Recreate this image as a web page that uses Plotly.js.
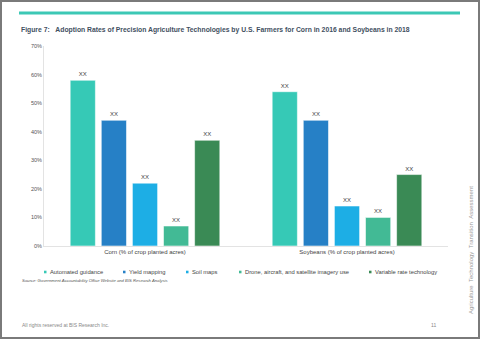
<!DOCTYPE html>
<html>
<head>
<meta charset="utf-8">
<script src="https://cdn.plot.ly/plotly-3.0.1.min.js"></script>
<style>html,body{margin:0;padding:0;background:#fff;}#chart{width:480px;height:339px;}</style>
</head>
<body>
<div id="chart"></div>
<script>
const categories = ["Corn (% of crop planted acres)", "Soybeans (% of crop planted acres)"];
const seriesNames = ["Automated guidance", "Yield mapping", "Soil maps", "Drone, aircraft, and satellite imagery use", "Variable rate technology"];
const automatedGuidance = [58, 54];
const yieldMapping = [44, 44];
const soilMaps = [22, 14];
const droneImagery = [7, 10];
const variableRate = [37, 25];
const seriesValues = [automatedGuidance, yieldMapping, soilMaps, droneImagery, variableRate];
const barLabels = ["XX", "XX"];
const yTickValues = [0, 10, 20, 30, 40, 50, 60, 70];
const yTickLabels = ["0%", "10%", "20%", "30%", "40%", "50%", "60%", "70%"];
const colors = ["#36C9B6", "#2680C6", "#1DAEE5", "#42BA95", "#3A8A55"];

// plot area in pixels: x 44..448, y 46..246
const L = 44, R = 448, T = 46, B = 246;
const px = x => (x - L) / (R - L);
const py = y => (B - y) / (B - T);
const FONT = "Liberation Sans, Arial, sans-serif";

const traces = seriesValues.map((vals, i) => ({
  type: "bar",
  name: seriesNames[i],
  x: categories,
  y: vals,
  text: barLabels,
  textposition: "outside",
  textfont: {family: FONT, size: 6, color: "#444"},
  cliponaxis: false,
  marker: {color: colors[i], line: {color: "rgba(255,255,255,0.55)", width: 1}},
  hoverinfo: "none",
  showlegend: false
}));

const legendX = [44, 123, 186, 239, 369];
const legendY = 272;
const shapes = [
  {type: "line", xref: "paper", yref: "paper", x0: px(19), x1: px(460), y0: py(13), y1: py(13), line: {color: "#3CC8B5", width: 3}},
  {type: "rect", xref: "paper", yref: "paper", x0: px(1), x1: px(479), y0: py(338), y1: py(1), line: {color: "#7a7a7a", width: 2}}
];
const annotations = [
  {xref: "paper", yref: "paper", x: px(19), y: py(30), xanchor: "left", yanchor: "middle", showarrow: false,
   text: "<b>Figure 7:&nbsp;&nbsp;&nbsp;Adoption Rates of Precision Agriculture Technologies by U.S. Farmers for Corn in 2016 and Soybeans in 2018</b>",
   font: {family: FONT, size: 6.8, color: "#3f4f5f"}},
  {xref: "paper", yref: "paper", x: px(20), y: py(280), xanchor: "left", yanchor: "middle", showarrow: false,
   text: "<i>Source: Government Accountability Office Website and BIS Research Analysis</i>",
   font: {family: FONT, size: 4.2, color: "#555"}},
  {xref: "paper", yref: "paper", x: px(20), y: py(325), xanchor: "left", yanchor: "middle", showarrow: false,
   text: "All rights reserved at BIS Research Inc.",
   font: {family: FONT, size: 5, color: "#888"}},
  {xref: "paper", yref: "paper", x: px(433), y: py(325), xanchor: "center", yanchor: "middle", showarrow: false,
   text: "11", font: {family: FONT, size: 5, color: "#888"}},
  {xref: "paper", yref: "paper", x: px(471), y: py(250), xanchor: "center", yanchor: "middle", showarrow: false, textangle: -90,
   text: "Agriculture&nbsp;&nbsp;Technology&nbsp;&nbsp;Transition&nbsp;&nbsp;Assessment",
   font: {family: FONT, size: 6, color: "#999"}}
];
seriesNames.forEach((n, i) => {
  shapes.push({type: "rect", xref: "paper", yref: "paper", x0: px(legendX[i]), x1: px(legendX[i] + 2.5), y0: py(legendY + 1.3), y1: py(legendY - 1.3), line: {width: 0}, fillcolor: colors[i]});
  annotations.push({xref: "paper", yref: "paper", x: px(legendX[i] + 3.5), y: py(legendY), xanchor: "left", yanchor: "middle", showarrow: false,
    text: n, font: {family: FONT, size: 5.8, color: "#444"}});
});

const layout = {
  width: 480, height: 339,
  margin: {l: L, r: 480 - R, t: T, b: 339 - B},
  paper_bgcolor: "#fff", plot_bgcolor: "#fff",
  barmode: "group", bargap: 0.23, bargroupgap: 0.19,
  showlegend: false,
  font: {family: FONT},
  xaxis: {type: "category", range: [-0.5, 1.5], showgrid: false, zeroline: false, showline: true, linecolor: "#e3e3e3", linewidth: 1,
          ticks: "", tickfont: {family: FONT, size: 6, color: "#444"}, fixedrange: true},
  yaxis: {range: [0, 70], tickvals: yTickValues, ticktext: yTickLabels, showgrid: false, zeroline: false, showline: true, linecolor: "#e3e3e3", linewidth: 1,
          ticks: "", tickfont: {family: FONT, size: 5.5, color: "#555"}, fixedrange: true},
  shapes: shapes,
  annotations: annotations
};
Plotly.newPlot("chart", traces, layout, {staticPlot: true, displayModeBar: false});
</script>
</body>
</html>
